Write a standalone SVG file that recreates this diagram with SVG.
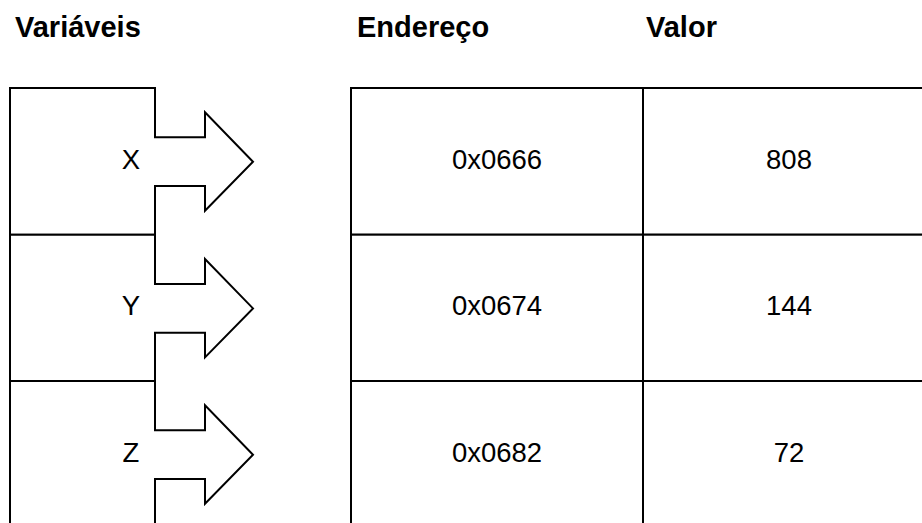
<svg xmlns="http://www.w3.org/2000/svg" width="922" height="523" viewBox="0 0 922 523">
  <style>
    .shape { fill: #ffffff; stroke: #000000; stroke-width: 2; stroke-linejoin: miter; }
    .head { font-family: "Liberation Sans", Arial, sans-serif; font-size: 29px; font-weight: bold; fill: #000000; }
    .label { font-family: "Liberation Sans", Arial, sans-serif; font-size: 27.5px; fill: #000000; text-anchor: middle; }
  </style>
  <rect width="922" height="523" fill="#ffffff"/>

  <!-- column headings -->
  <g id="headings">
    <text class="head" x="15" y="37">Variáveis</text>
    <text class="head" x="357" y="37">Endereço</text>
    <text class="head" x="646" y="37">Valor</text>
  </g>

  <!-- variable boxes, each with an arrow pointing to its memory cell -->
  <g id="var-x">
    <path class="shape" d="M10,88 H155 V137.3 H205 V112.3 L253,161.7 L205,210.7 V186 H155 V234.7 H10 Z"/>
    <text class="label" x="131" y="169">X</text>
  </g>
  <g id="var-y">
    <path class="shape" d="M10,234.7 H155 V284 H205 V259 L253,308.4 L205,357.4 V332.7 H155 V381 H10 Z"/>
    <text class="label" x="131" y="315">Y</text>
  </g>
  <g id="var-z">
    <path class="shape" d="M10,381 H155 V430.3 H205 V405.3 L253,454.7 L205,503.7 V479 H155 V528 H10 Z"/>
    <text class="label" x="131" y="462">Z</text>
  </g>

  <!-- memory table: address and value cells -->
  <g id="addr-x">
    <rect class="shape" x="351" y="88" width="292" height="146.7"/>
    <text class="label" x="497" y="169">0x0666</text>
  </g>
  <g id="val-x">
    <rect class="shape" x="643" y="88" width="292" height="146.7"/>
    <text class="label" x="789" y="169">808</text>
  </g>
  <g id="addr-y">
    <rect class="shape" x="351" y="234.7" width="292" height="146.3"/>
    <text class="label" x="497" y="315">0x0674</text>
  </g>
  <g id="val-y">
    <rect class="shape" x="643" y="234.7" width="292" height="146.3"/>
    <text class="label" x="789" y="315">144</text>
  </g>
  <g id="addr-z">
    <rect class="shape" x="351" y="381" width="292" height="147"/>
    <text class="label" x="497" y="462">0x0682</text>
  </g>
  <g id="val-z">
    <rect class="shape" x="643" y="381" width="292" height="147"/>
    <text class="label" x="789" y="462">72</text>
  </g>

  <g id="connectors"></g>
</svg>
